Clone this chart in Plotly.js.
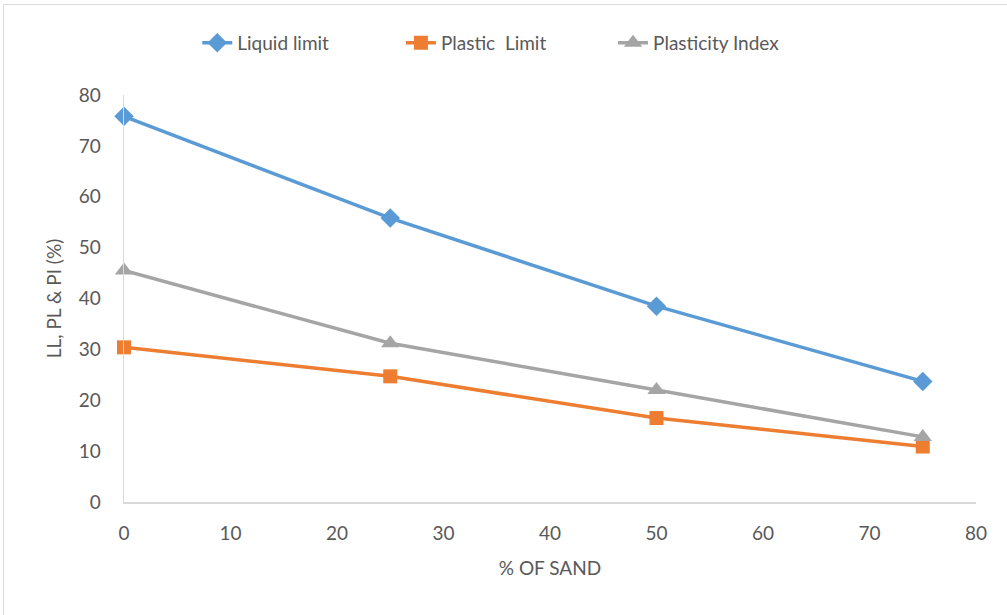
<!DOCTYPE html>
<html>
<head>
<meta charset="utf-8">
<script src="https://cdn.plot.ly/plotly-3.0.1.min.js"></script>
<style>
html,body{margin:0;padding:0;background:#fff;}
#frame{position:absolute;left:3px;top:4px;width:1010px;height:620px;border:1px solid #d9d9d9;box-sizing:border-box;}
#chart{position:absolute;left:0;top:0;width:1007px;height:615px;}
</style>
</head>
<body>
<div id="frame"></div>
<div id="chart"></div>
<script>
const sand = [0, 25, 50, 75];
const liquidLimit = [75.8, 55.8, 38.5, 23.7];
const plasticLimit = [30.4, 24.7, 16.5, 10.9];
const plasticityIndex = [45.5, 31.2, 22.0, 12.8];
const seriesNames = ['Liquid limit', 'Plastic  Limit', 'Plasticity Index'];
const xTicks = [0, 10, 20, 30, 40, 50, 60, 70, 80];
const yTicks = [0, 10, 20, 30, 40, 50, 60, 70, 80];

const font = 'Lato, "Open Sans", sans-serif';

const traces = [
  {x: sand, y: liquidLimit, name: seriesNames[0], mode: 'lines+markers', cliponaxis: false, legend: 'legend',
   line: {color: '#5b9bd5', width: 3.5}, marker: {symbol: 'diamond', size: 15, color: '#5b9bd5'}},
  {x: sand, y: plasticLimit, name: seriesNames[1], mode: 'lines+markers', cliponaxis: false, legend: 'legend2',
   line: {color: '#ed7d31', width: 3.5}, marker: {symbol: 'square', size: 14, color: '#ed7d31'}},
  {x: sand, y: plasticityIndex, name: seriesNames[2], mode: 'lines+markers', cliponaxis: false, legend: 'legend3',
   line: {color: '#a5a5a5', width: 3.5}, marker: {symbol: 'triangle-up', size: 16, color: '#a5a5a5'}}
];

function leg(xpos) {
  return {orientation: 'h', x: xpos, xanchor: 'left', y: 1.128, yanchor: 'middle',
          itemsizing: 'trace', bgcolor: 'rgba(0,0,0,0)',
          font: {family: font, size: 19, color: '#595959'}};
}

const layout = {
  width: 1007, height: 615,
  margin: {l: 124, r: 31, t: 95, b: 113, autoexpand: false},
  paper_bgcolor: 'rgba(0,0,0,0)', plot_bgcolor: '#fff',
  font: {family: font, color: '#595959', size: 19},
  showlegend: true,
  legend: leg(0.086),
  legend2: leg(0.325),
  legend3: leg(0.574),
  xaxis: {range: [0, 80], tickvals: xTicks, ticktext: xTicks.map(String), showgrid: false,
          zeroline: false, showline: true, linecolor: '#d9d9d9', linewidth: 1.5,
          ticks: '', ticklabelstandoff: 14, automargin: false,
          title: {text: '% OF SAND', font: {family: font, size: 19, color: '#595959'}, standoff: 18}},
  yaxis: {range: [0, 80], tickvals: yTicks, ticktext: yTicks.map(String), showgrid: false,
          zeroline: false, showline: true, linecolor: '#d9d9d9', linewidth: 1.5,
          ticks: '', ticklabelstandoff: 18, automargin: false,
          title: {text: 'LL, PL & PI (%)', font: {family: font, size: 19, color: '#595959'}, standoff: 12}}
};

Plotly.newPlot('chart', traces, layout, {displayModeBar: false, staticPlot: true});
</script>
</body>
</html>
